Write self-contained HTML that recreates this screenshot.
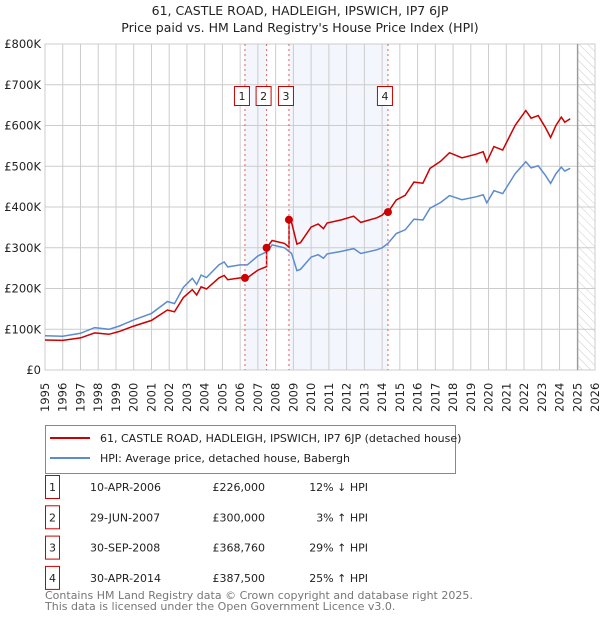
<!DOCTYPE html>
<html><head><meta charset="utf-8"><style>
body{margin:0;background:#fff;font-family:"DejaVu Sans","Liberation Sans",sans-serif;}
svg{display:block}
</style></head><body>
<svg id="chart" width="600" height="620" xmlns="http://www.w3.org/2000/svg" font-family="DejaVu Sans, Liberation Sans, sans-serif">
<text x="300" y="15" text-anchor="middle" font-size="12.5" fill="#222">61, CASTLE ROAD, HADLEIGH, IPSWICH, IP7 6JP</text>
<text x="300" y="32" text-anchor="middle" font-size="12.5" fill="#222">Price paid vs. HM Land Registry's House Price Index (HPI)</text>
<defs><pattern id="hatch" width="6" height="6" patternUnits="userSpaceOnUse" patternTransform="rotate(-45)"><line x1="0" y1="0" x2="0" y2="6" stroke="#ccc" stroke-width="1"/></pattern></defs>
<g id="plot"></g>
<g>
<rect x="45.5" y="425.5" width="410" height="48" fill="#fff" stroke="#888"/>
<line x1="50" y1="438" x2="90" y2="438" stroke="#cc0000" stroke-width="2"/>
<text x="100" y="442" font-size="11" fill="#222">61, CASTLE ROAD, HADLEIGH, IPSWICH, IP7 6JP (detached house)</text>
<line x1="50" y1="458" x2="90" y2="458" stroke="#5b8ccf" stroke-width="2"/>
<text x="100" y="462" font-size="11" fill="#222">HPI: Average price, detached house, Babergh</text>
</g>
<g id="table" font-size="11" fill="#222"></g>
<text x="45" y="599" font-size="11" fill="#777">Contains HM Land Registry data © Crown copyright and database right 2025.</text>
<text x="45" y="610" font-size="11" fill="#777">This data is licensed under the Open Government Licence v3.0.</text>
</svg>
<script>
const hpiYears=[1995,1996,1997,1997.8,1998.6,1999.2,2000,2001,2001.9,2002.3,2002.8,2003.3,2003.55,2003.8,2004.1,2004.8,2005.1,2005.3,2006,2006.4,2007,2007.5,2007.8,2008.5,2008.9,2009.2,2009.4,2010,2010.4,2010.7,2010.9,2011.7,2012.4,2012.8,2013.7,2014,2014.33,2014.8,2015.3,2015.8,2016.3,2016.7,2017.3,2017.8,2018.5,2019.3,2019.7,2019.9,2020.3,2020.8,2021.5,2022.1,2022.4,2022.8,2023.2,2023.5,2023.8,2024.1,2024.3,2024.6];
const hpiValues=[84,83,90,104,100,108,123,139,168,163,203,225,210,233,227,258,265,253,258,258,280,290,307,300,286,244,247,277,283,274,285,291,298,286,295,300,311,335,344,370,368,397,411,428,418,425,430,410,440,433,482,511,496,501,478,458,482,498,488,495];
const saleYears=[2006.27,2007.49,2008.75,2014.33];
const salePrices=[226000,300000,368760,387500];
const saleDates=["10-APR-2006","29-JUN-2007","30-SEP-2008","30-APR-2014"];
const salePriceLabels=["£226,000","£300,000","£368,760","£387,500"];
const saleHpiLabels=["12% ↓ HPI","3% ↑ HPI","29% ↑ HPI","25% ↑ HPI"];
const yTicks=[0,100,200,300,400,500,600,700,800];
const yTickLabels=["£0","£100K","£200K","£300K","£400K","£500K","£600K","£700K","£800K"];
const xTicks=[1995,1996,1997,1998,1999,2000,2001,2002,2003,2004,2005,2006,2007,2008,2009,2010,2011,2012,2013,2014,2015,2016,2017,2018,2019,2020,2021,2022,2023,2024,2025,2026];

const NS="http://www.w3.org/2000/svg";
const X0=45,X1=595,Y0=370,Y1=44;
const sx=y=>X0+(y-1995)/(2026-1995)*(X1-X0);
const sy=v=>Y0-v/800*(Y0-Y1);
const plot=document.getElementById('plot');
function mk(tag,attrs,parent){const e=document.createElementNS(NS,tag);for(const k in attrs)e.setAttribute(k,attrs[k]);(parent||plot).appendChild(e);return e;}
function hpiAt(t){for(let i=0;i<hpiYears.length-1;i++){if(t<=hpiYears[i+1]){const f=(t-hpiYears[i])/(hpiYears[i+1]-hpiYears[i]);return hpiValues[i]+f*(hpiValues[i+1]-hpiValues[i]);}}return hpiValues[hpiValues.length-1];}

let e=mk('rect',{x:X0,y:Y1,width:X1-X0,height:Y0-Y1,fill:'#fff',stroke:'#ccc'});

e=mk('rect',{x:sx(saleYears[0]),y:Y1,width:sx(saleYears[1])-sx(saleYears[0]),height:Y0-Y1,fill:'#eef2fc',opacity:0.7});

e=mk('rect',{x:sx(saleYears[2]),y:Y1,width:sx(saleYears[3])-sx(saleYears[2]),height:Y0-Y1,fill:'#eef2fc',opacity:0.7});

e=mk('rect',{x:sx(2025),y:Y1,width:X1-sx(2025),height:Y0-Y1,fill:'url(#hatch)'});

xTicks.forEach(t=>{const l=mk('line',{x1:sx(t),x2:sx(t),y1:Y1,y2:Y0,stroke:'#ccc','stroke-width':1});

const tx=mk('text',{x:0,y:0,transform:`translate(${sx(t)+4},${Y0+42}) rotate(-90)`,'font-size':11.5,fill:'#222'});tx.textContent=t;
});
yTicks.forEach((v,i)=>{const l=mk('line',{x1:X0,x2:X1,y1:sy(v),y2:sy(v),stroke:'#ccc','stroke-width':1});

const tx=mk('text',{x:X0-4,y:sy(v)+4,'text-anchor':'end','font-size':11.5,fill:'#222'});tx.textContent=yTickLabels[i];
});
e=mk('line',{x1:sx(2025)+0.5,x2:sx(2025)+0.5,y1:Y1,y2:Y0,stroke:'#888','stroke-width':1});


let d=hpiYears.map((t,i)=>(i?'L':'M')+sx(t).toFixed(1)+','+sy(hpiValues[i]).toFixed(1)).join('');
e=mk('path',{d:d,fill:'none',stroke:'#5b8ccf','stroke-width':1.5});

let pts=[];
function seg(a,b,k){const r=salePrices[k]/1000/hpiAt(saleYears[k]);const ts=[a,...hpiYears.filter(t=>t>a&&t<b),b];ts.forEach(t=>pts.push([t,hpiAt(t)*r]));}
seg(1995,saleYears[1],0);seg(saleYears[1],saleYears[2],1);seg(saleYears[2],saleYears[3],2);seg(saleYears[3],2024.6,3);
d=pts.map((p,i)=>(i?'L':'M')+sx(p[0]).toFixed(1)+','+sy(p[1]).toFixed(1)).join('');
e=mk('path',{d:d,fill:'none',stroke:'#cc0000','stroke-width':1.5});


saleYears.forEach((t,i)=>{const x=sx(t);
let l=mk('line',{x1:x,x2:x,y1:Y1,y2:Y0,stroke:'#e06060','stroke-width':1,'stroke-dasharray':'2,3'});

let c=mk('circle',{cx:x,cy:sy(salePrices[i]/1000),r:4,fill:'#cc0000'});

let b=mk('rect',{x:x-10.5,y:86.5,width:15,height:19,fill:'#fff',stroke:'#cc0000'});

let tx=mk('text',{x:x-3,y:100,'text-anchor':'middle','font-size':11,fill:'#222'});tx.textContent=i+1;
});

const tb=document.getElementById('table');
saleYears.forEach((t,i)=>{const y=487+i*30.3;
let b=mk('rect',{x:45.5,y:y-11.5,width:14,height:23,fill:'#fff',stroke:'#cc0000'},tb);

const cells=[[52.5,String(i+1),'middle'],[90,saleDates[i],'start'],[265,salePriceLabels[i],'end'],[368,saleHpiLabels[i],'end']];
cells.forEach(cc=>{let tx=mk('text',{x:cc[0],y:y+4,'text-anchor':cc[2]},tb);tx.textContent=cc[1];
});});
</script>
</body></html>
